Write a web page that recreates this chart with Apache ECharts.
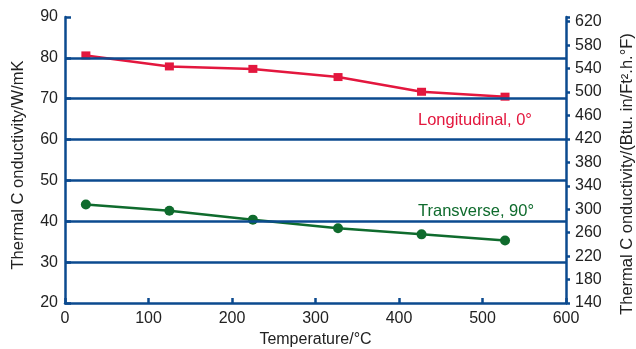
<!DOCTYPE html>
<html><head><meta charset="utf-8">
<script src="https://cdn.jsdelivr.net/npm/echarts@6/dist/echarts.min.js"></script>
<style>html,body{margin:0;padding:0;background:#fff}#c{width:636px;height:349px}</style>
</head><body><div id="c"></div>
<script>
var temperatures = [25, 125, 225, 327, 427, 527];
var longitudinal = [80.6, 77.9, 77.3, 75.3, 71.7, 70.5];
var transverse = [44.1, 42.6, 40.4, 38.3, 36.8, 35.3];
var leftTicks = [20, 30, 40, 50, 60, 70, 80, 90];
var rightTicks = [140, 180, 220, 260, 300, 340, 380, 420, 460, 500, 540, 580, 620];
var xTicks = [0, 100, 200, 300, 400, 500, 600];
var gridValues = [30, 40, 50, 60, 70, 80];
var seriesNames = ['Longitudinal, 0°', 'Transverse, 90°'];
var axisNames = ['Temperature/°C', 'Thermal C onductivity/W/mK', 'Thermal C onductivity/(Btu. in/Ft².h.°F)'];

var navy = '#0b4a8f';
var red = '#e3173e';
var green = '#0f6b2d';
var font = '"Liberation Sans", Arial, sans-serif';

function pairs(xs, ys) { return xs.map(function (x, i) { return [x, ys[i]]; }); }

var chart = echarts.init(document.getElementById('c'));
chart.setOption({
  animation: false,
  grid: { left: 65, right: 70, top: 17, bottom: 46, containLabel: false, outerBoundsMode: 'none' },
  xAxis: {
    type: 'value', min: xTicks[0], max: xTicks[xTicks.length - 1], interval: 100,
    name: axisNames[0], nameLocation: 'middle', nameGap: 27,
    nameTextStyle: { color: '#222', fontFamily: font, fontSize: 16 },
    axisLine: { lineStyle: { color: navy, width: 2.5 } },
    axisTick: { inside: true, length: 5, lineStyle: { color: navy, width: 2.5 } },
    axisLabel: { color: '#222', fontFamily: font, fontSize: 16, margin: 8 },
    splitLine: { show: false }
  },
  yAxis: [{
    type: 'value', min: leftTicks[0], max: leftTicks[leftTicks.length - 1], interval: 10,
    axisLine: { show: true, lineStyle: { color: navy, width: 2.5 } },
    axisTick: { show: true, inside: true, length: 6, lineStyle: { color: navy, width: 2.5 } },
    axisLabel: { color: '#222', fontFamily: font, fontSize: 16, margin: 7 },
    splitLine: { show: false }
  }, {
    type: 'value', position: 'right', min: 140, max: 628, interval: 40,
    axisLine: { show: true, lineStyle: { color: navy, width: 2.5 } },
    axisTick: { show: true, length: 4, lineStyle: { color: navy, width: 2.5 } },
    axisLabel: { color: '#222', fontFamily: font, fontSize: 16, margin: 9,
      formatter: function (v) { return rightTicks.indexOf(v) >= 0 ? String(v) : ''; } },
    splitLine: { show: false }
  }],
  series: [{
    name: seriesNames[0], type: 'line', yAxisIndex: 0,
    data: pairs(temperatures, longitudinal),
    symbol: 'rect', symbolSize: [9, 8],
    lineStyle: { color: red, width: 2.5 }, itemStyle: { color: red },
    markLine: {
      silent: true, symbol: 'none', label: { show: false },
      lineStyle: { color: navy, width: 2.5, type: 'solid' },
      data: gridValues.map(function (v) { return { yAxis: v }; })
    },
    z: 3
  }, {
    name: seriesNames[1], type: 'line', yAxisIndex: 0,
    data: pairs(temperatures, transverse),
    symbol: 'circle', symbolSize: 10,
    lineStyle: { color: green, width: 2.5 }, itemStyle: { color: green },
    z: 3
  }],
  graphic: [{
    type: 'text', left: 418, top: 112,
    style: { text: seriesNames[0], fill: red, font: '16.5px ' + font }
  }, {
    type: 'text', left: 418, top: 203,
    style: { text: seriesNames[1], fill: green, font: '16.5px ' + font }
  }, {
    type: 'text', x: 18, y: 165, rotation: Math.PI / 2,
    style: { text: axisNames[1], fill: '#222', font: '16.5px ' + font, align: 'center', verticalAlign: 'middle' }
  }, {
    type: 'text', x: 627, y: 174, rotation: Math.PI / 2,
    style: { text: axisNames[2], fill: '#222', font: '16.5px ' + font, align: 'center', verticalAlign: 'middle' }
  }]
});
</script></body></html>
